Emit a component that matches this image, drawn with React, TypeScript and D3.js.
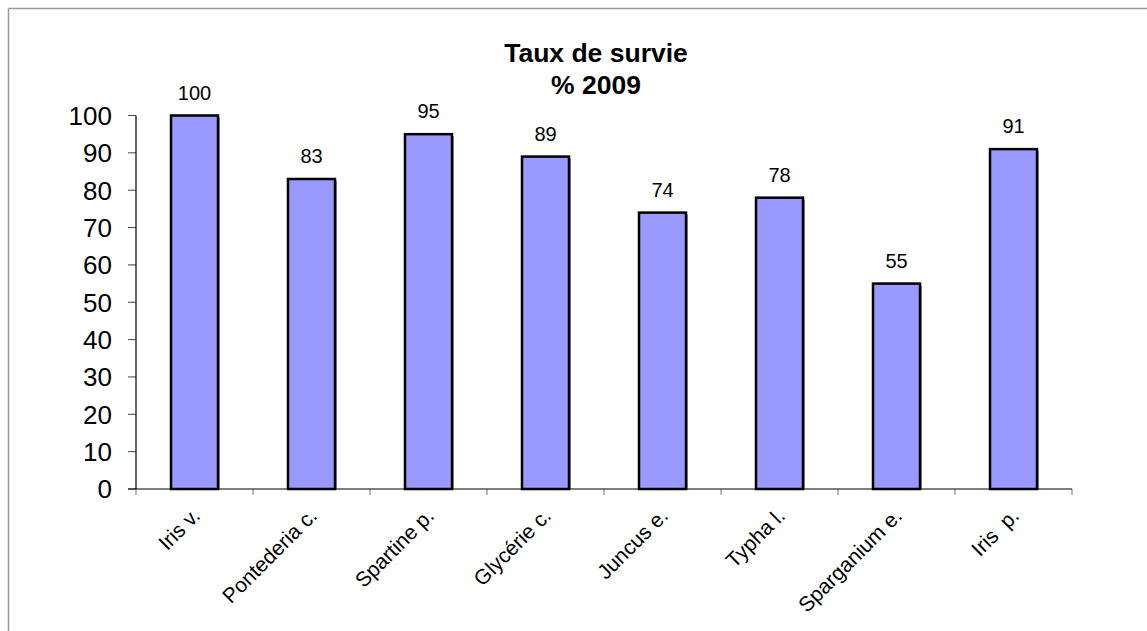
import React from "react";
import * as d3 from "d3";

const categories = ["Iris v.", "Pontederia c.", "Spartine p.", "Glycérie c.", "Juncus e.", "Typha l.", "Sparganium e.", "Iris  p."];
const values = [100, 83, 95, 89, 74, 78, 55, 91];
const yTicks = [0, 10, 20, 30, 40, 50, 60, 70, 80, 90, 100];
const titleLines = ["Taux de survie", "% 2009"];

export default function App() {
  const W = 1147, H = 631;
  const left = 136, right = 1072, top = 115.5, bottom = 489;
  const x = d3.scaleBand<string>().domain(categories).range([left, right]).paddingInner(0).paddingOuter(0);
  const y = d3.scaleLinear().domain([0, 100]).range([bottom, top]);
  const bw = x.bandwidth();
  const barW = 47;
  const font = "'Liberation Sans', Arial, sans-serif";
  return (
    <svg width={W} height={H} style={{ position: "absolute", left: 0, top: 0 }} fontFamily={font}>
      <rect x={0} y={0} width={W} height={H} fill="#fff" />
      <line x1={8.5} y1={8.5} x2={8.5} y2={H} stroke="#999" strokeWidth={1.5} />
      <line x1={8.5} y1={8.5} x2={W} y2={8.5} stroke="#999" strokeWidth={1.5} />
      {titleLines.map((t, i) => (
        <text key={t} x={596} y={62 + i * 31.5} textAnchor="middle" fontWeight="bold" fontSize={26.5} fill="#000">{t}</text>
      ))}
      {yTicks.map((t) => (
        <g key={t}>
          <line x1={left - 8} x2={left} y1={y(t)} y2={y(t)} stroke="#444" strokeWidth={1} />
          <text x={112} y={y(t)} dy="0.36em" textAnchor="end" fontSize={26} fill="#000">{t}</text>
        </g>
      ))}
      {categories.map((c, i) => {
        const cx = (x(c) as number) + bw / 2;
        const v = values[i];
        return (
          <g key={c}>
            <rect x={cx - barW / 2 + 2} y={y(v) + 2} width={barW} height={bottom - y(v) - 2} fill="#999" />
            <rect x={cx - barW / 2} y={y(v)} width={barW} height={bottom - y(v)} fill="#9999FF" stroke="#000" strokeWidth={2.5} />
            <text x={cx} y={y(v) - 16} textAnchor="middle" fontSize={20} fill="#000">{v}</text>
            <text transform={`translate(${cx + 7},${517}) rotate(-45)`} textAnchor="end" fontSize={21} fill="#000" style={{ whiteSpace: "pre" }}>{c}</text>
          </g>
        );
      })}
      {d3.range(categories.length + 1).map((i) => {
        const tx = left + i * bw;
        return <line key={i} x1={tx} x2={tx} y1={bottom} y2={bottom + 6} stroke="#777" strokeWidth={1} />;
      })}
      <line x1={left} x2={left} y1={top} y2={bottom} stroke="#000" strokeWidth={1.2} />
      <line x1={left - 8} x2={right} y1={bottom} y2={bottom} stroke="#000" strokeWidth={1.2} />
    </svg>
  );
}
